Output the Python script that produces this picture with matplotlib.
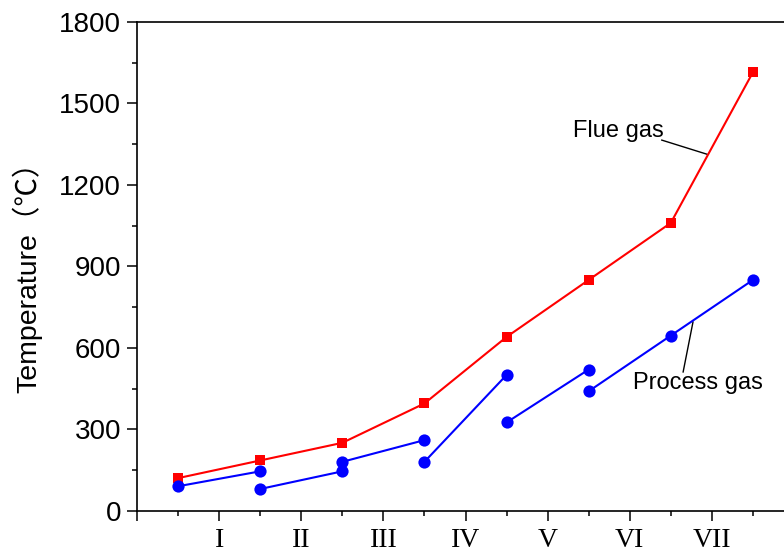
import matplotlib
matplotlib.use("Agg")
import matplotlib.pyplot as plt
from matplotlib.ticker import FixedLocator, MultipleLocator

# ---- data ----
stations = [0, 1, 2, 3, 4, 5, 6, 7]
flue_gas = [120, 185, 250, 395, 640, 850, 1060, 1615]

process_starts = [0, 1, 2, 3, 4, 5]
process_values = [
    [90, 145],
    [80, 145],
    [180, 260],
    [180, 500],
    [325, 520],
    [440, 645, 850],
]

section_labels = ["I", "II", "III", "IV", "V", "VI", "VII"]
y_ticks = [0, 300, 600, 900, 1200, 1500, 1800]

RED = "#FF0000"
BLUE = "#0000FF"
SANS = ["Liberation Sans", "DejaVu Sans"]
SERIF = ["Liberation Serif", "DejaVu Serif"]

fig = plt.figure(figsize=(7.84, 5.54), dpi=100)
W, H = 784, 554
left_px, right_px, top_px, bot_px = 137, 794, 22, 510.7
ax = fig.add_axes([left_px / W, 1 - bot_px / H,
                   (right_px - left_px) / W, (bot_px - top_px) / H])

# flue gas
ax.plot(stations, flue_gas, color=RED, lw=1.5, marker="s", ms=7.8,
        markeredgewidth=0, zorder=3)

# process gas segments
for s, vals in zip(process_starts, process_values):
    xs = list(range(s, s + len(vals)))
    ax.plot(xs, vals, color=BLUE, lw=1.5, marker="o", ms=8.8,
            markeredgewidth=0, zorder=3)

ax.set_xlim(-0.5, 7.5)
ax.set_ylim(0, 1800)

# ticks
major_x = [i - 0.5 for i in range(len(section_labels) + 2)]
ax.xaxis.set_major_locator(FixedLocator(major_x))
ax.set_xticklabels([""] + section_labels + [""], family=SERIF, fontsize=20)
ax.xaxis.set_minor_locator(FixedLocator(stations))
ax.yaxis.set_major_locator(FixedLocator(y_ticks))
ax.yaxis.set_minor_locator(MultipleLocator(150))
ax.set_yticklabels([str(v) for v in y_ticks], family=SANS, fontsize=20)

ax.tick_params(which="major", direction="out", length=7, width=1.1, color="black")
ax.tick_params(which="minor", direction="out", length=3.6, width=1.1, color="black")
ax.tick_params(axis="x", which="major", pad=5.5)
ax.tick_params(axis="y", which="major", pad=4.5)
ax.tick_params(top=False, right=False, which="both")

for sp in ax.spines.values():
    sp.set_linewidth(1.2)
    sp.set_color("black")

# y label
fig.text(27 / W, 1 - 270 / H, "Temperature（℃）", rotation=90,
         ha="center", va="center", fontsize=20.5,
         family=["Liberation Sans", "Noto Sans CJK SC", "DejaVu Sans"])

# annotations
ax.text(4.81, 1400, "Flue gas", family=SANS, fontsize=17,
        ha="left", va="center")
ax.plot([5.89, 6.44], [1365, 1313], color="black", lw=1.0)

ax.text(5.54, 470, "Process gas", family=SANS, fontsize=17,
        ha="left", va="center")
ax.plot([6.15, 6.27], [511, 695], color="black", lw=1.0)

fig.savefig("out.png", dpi=100)
